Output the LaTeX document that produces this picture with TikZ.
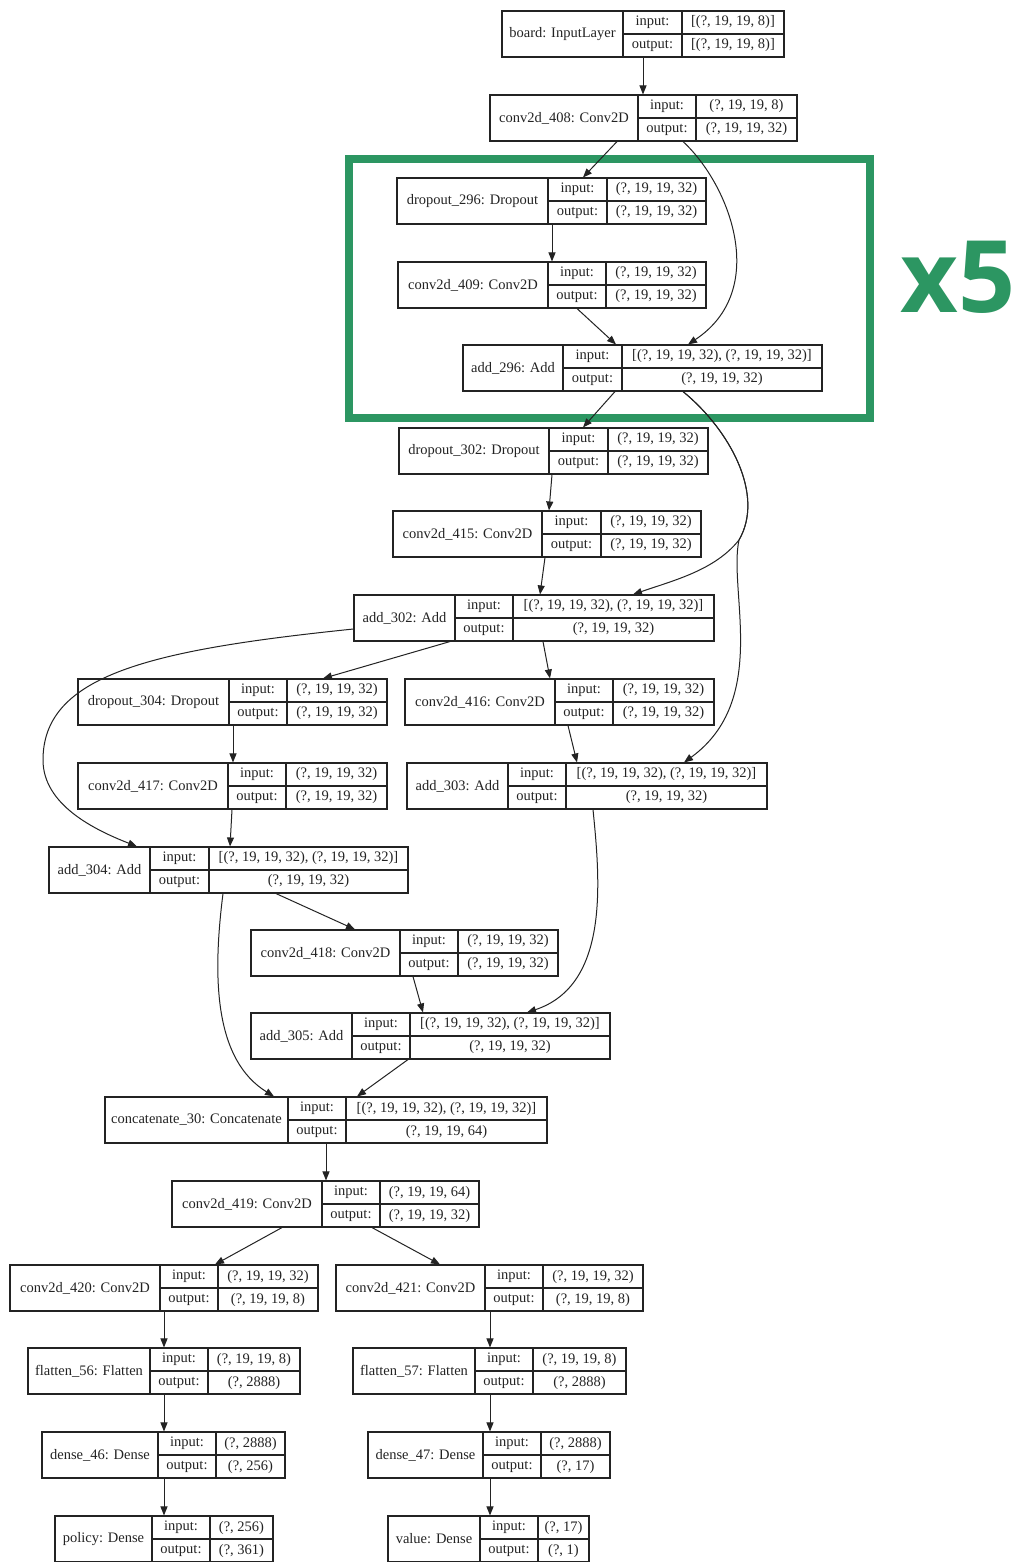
\documentclass[tikz,border=0pt]{standalone}
\usepackage{fontspec}
\setmainfont{Liberation Serif}
\newfontfamily\xfont{Open Sans}
\usetikzlibrary{arrows.meta}
\definecolor{grn}{RGB}{44,150,98}
\definecolor{ink}{RGB}{35,35,35}
\tikzset{
  boxline/.style={draw=ink, line width=1.1pt},
  lbl/.style={font=\fontsize{14.5}{16}\selectfont, text=ink, inner sep=0pt},
  edge/.style={draw=ink, line width=1pt, -{Triangle[length=9pt,width=7pt]}},
}
% name, x0, xdiv, xcol, x1, y0, label, input, output
\newcommand\klayer[9]{%
  \node[boxline, minimum width={#5-#2}, minimum height=46, inner sep=0pt] (#1) at ({(#2+#5)/2},{#6+23}) {};
  \draw[boxline] (#3,#6) -- (#3,{#6+46});
  \draw[boxline] (#4,#6) -- (#4,{#6+46});
  \draw[boxline] (#3,{#6+23}) -- (#5,{#6+23});
  \node[lbl] (#1-l) at ({(#2+#3)/2},{#6+23}) {#7};
  \node[lbl] (#1-ik) at ({(#3+#4)/2},{#6+11.5}) {input:};
  \node[lbl] (#1-ok) at ({(#3+#4)/2},{#6+34.5}) {output:};
  \node[lbl] (#1-iv) at ({(#4+#5)/2},{#6+11.5}) {#8};
  \node[lbl] (#1-ov) at ({(#4+#5)/2},{#6+34.5}) {#9};
}
\begin{document}
\begin{tikzpicture}[x=1pt,y=-1pt]
\useasboundingbox (0,0) rectangle (1015,1562);
\fill[white] (0,0) rectangle (1015,1562);

\klayer{board}{502}{623}{682}{784}{11}{board: InputLayer}{[(?, 19, 19, 8)]}{[(?, 19, 19, 8)]}
\klayer{c408}{490}{638}{696}{797}{95}{conv2d\_408: Conv2D}{(?, 19, 19, 8)}{(?, 19, 19, 32)}
\klayer{d296}{397}{548}{607}{706}{178}{dropout\_296: Dropout}{(?, 19, 19, 32)}{(?, 19, 19, 32)}
\klayer{c409}{398}{548}{606}{706}{262}{conv2d\_409: Conv2D}{(?, 19, 19, 32)}{(?, 19, 19, 32)}
\klayer{a296}{463}{563}{622}{822}{345}{add\_296: Add}{[(?, 19, 19, 32), (?, 19, 19, 32)]}{(?, 19, 19, 32)}
\klayer{d302}{399}{549}{608}{708}{428}{dropout\_302: Dropout}{(?, 19, 19, 32)}{(?, 19, 19, 32)}
\klayer{c415}{393}{542}{601}{701}{511}{conv2d\_415: Conv2D}{(?, 19, 19, 32)}{(?, 19, 19, 32)}
\klayer{a302}{354}{455}{513}{714}{595}{add\_302: Add}{[(?, 19, 19, 32), (?, 19, 19, 32)]}{(?, 19, 19, 32)}
\klayer{d304}{78}{229}{287}{387}{679}{dropout\_304: Dropout}{(?, 19, 19, 32)}{(?, 19, 19, 32)}
\klayer{c416}{405}{555}{613}{714}{679}{conv2d\_416: Conv2D}{(?, 19, 19, 32)}{(?, 19, 19, 32)}
\klayer{c417}{78}{228}{286}{387}{763}{conv2d\_417: Conv2D}{(?, 19, 19, 32)}{(?, 19, 19, 32)}
\klayer{a303}{407}{508}{566}{767}{763}{add\_303: Add}{[(?, 19, 19, 32), (?, 19, 19, 32)]}{(?, 19, 19, 32)}
\klayer{a304}{49}{150}{209}{408}{847}{add\_304: Add}{[(?, 19, 19, 32), (?, 19, 19, 32)]}{(?, 19, 19, 32)}
\klayer{c418}{251}{400}{458}{558}{930}{conv2d\_418: Conv2D}{(?, 19, 19, 32)}{(?, 19, 19, 32)}
\klayer{a305}{251}{352}{410}{610}{1013}{add\_305: Add}{[(?, 19, 19, 32), (?, 19, 19, 32)]}{(?, 19, 19, 32)}
\klayer{cat}{105}{288}{346}{547}{1097}{concatenate\_30: Concatenate}{[(?, 19, 19, 32), (?, 19, 19, 32)]}{(?, 19, 19, 64)}
\klayer{c419}{172}{322}{380}{479}{1181}{conv2d\_419: Conv2D}{(?, 19, 19, 64)}{(?, 19, 19, 32)}
\klayer{c420}{10}{160}{218}{318}{1265}{conv2d\_420: Conv2D}{(?, 19, 19, 32)}{(?, 19, 19, 8)}
\klayer{c421}{336}{485}{543}{643}{1265}{conv2d\_421: Conv2D}{(?, 19, 19, 32)}{(?, 19, 19, 8)}
\klayer{f56}{28}{150}{208}{300}{1348}{flatten\_56: Flatten}{(?, 19, 19, 8)}{(?, 2888)}
\klayer{f57}{353}{475}{533}{626}{1348}{flatten\_57: Flatten}{(?, 19, 19, 8)}{(?, 2888)}
\klayer{d46}{42}{158}{216}{285}{1432}{dense\_46: Dense}{(?, 2888)}{(?, 256)}
\klayer{d47}{368}{483}{541}{610}{1432}{dense\_47: Dense}{(?, 2888)}{(?, 17)}
\klayer{pol}{55}{152}{210}{273}{1516}{policy: Dense}{(?, 256)}{(?, 361)}
\klayer{val}{388}{480}{538}{589}{1516}{value: Dense}{(?, 17)}{(?, 1)}

% green repeat frame
\draw[grn, line width=7.5pt] (349,159) rectangle (870,418);
\node[font=\xfont\bfseries\fontsize{100}{100}\selectfont, text=grn, inner sep=0pt, anchor=base west] (x5) at (900,312) {x5};

% connectors
\draw[edge] (board.south -| 643,0) -- (c408.north -| 643,0);
\draw[edge] (c408.south -| 617,0) -- (d296.north -| 583,0);
\draw[edge] (c408.south -| 683,0) .. controls (730,185) and (770,290) .. (a296.north -| 688,0);
\draw[edge] (d296.south -| 552,0) -- (c409.north -| 552,0);
\draw[edge] (c409.south -| 577,0) -- (a296.north -| 616,0);
\draw[edge] (a296.south -| 615,0) -- (d302.north -| 583,0);
\draw[edge] (a296.south -| 683,0) .. controls (730,430) and (765,495) .. (739,540) .. controls (715,570) and (675,580) .. (a302.north -| 633,0);
\draw[edge] (a296.south -| 683,0) .. controls (730,430) and (765,495) .. (739,540) .. controls (728,590) and (770,700) .. (a303.north -| 684,0);
\draw[edge] (d302.south -| 552,0) -- (c415.north -| 549,0);
\draw[edge] (c415.south -| 545,0) -- (a302.north -| 540,0);
\draw[edge] (a302.south -| 450,0) -- (d304.north -| 323,0);
\draw[edge] (a302.south -| 543,0) -- (c416.north -| 550,0);
\draw[edge] (a302.west |- 0,629) .. controls (150,650) and (43,675) .. (43,760) .. controls (43,805) and (95,830) .. (a304.north -| 137,0);
\draw[edge] (d304.south -| 233,0) -- (c417.north -| 233,0);
\draw[edge] (c417.south -| 232,0) -- (a304.north -| 230,0);
\draw[edge] (c416.south -| 568,0) -- (a303.north -| 577,0);
\draw[edge] (a303.south -| 593,0) .. controls (600,880) and (610,985) .. (a305.north -| 527,0);
\draw[edge] (a304.south -| 276,0) -- (c418.north -| 355,0);
\draw[edge] (a304.south -| 223,0) .. controls (212,980) and (215,1060) .. (cat.north -| 274,0);
\draw[edge] (c418.south -| 413,0) -- (a305.north -| 423,0);
\draw[edge] (a305.south -| 408,0) -- (cat.north -| 357,0);
\draw[edge] (cat.south -| 326,0) -- (c419.north -| 326,0);
\draw[edge] (c419.south -| 282,0) -- (c420.north -| 215,0);
\draw[edge] (c419.south -| 372,0) -- (c421.north -| 440,0);
\draw[edge] (c420.south -| 164,0) -- (f56.north -| 164,0);
\draw[edge] (f56.south -| 164,0) -- (d46.north -| 164,0);
\draw[edge] (d46.south -| 164,0) -- (pol.north -| 164,0);
\draw[edge] (c421.south -| 490,0) -- (f57.north -| 490,0);
\draw[edge] (f57.south -| 490,0) -- (d47.north -| 490,0);
\draw[edge] (d47.south -| 490,0) -- (val.north -| 490,0);
\end{tikzpicture}
\end{document}
